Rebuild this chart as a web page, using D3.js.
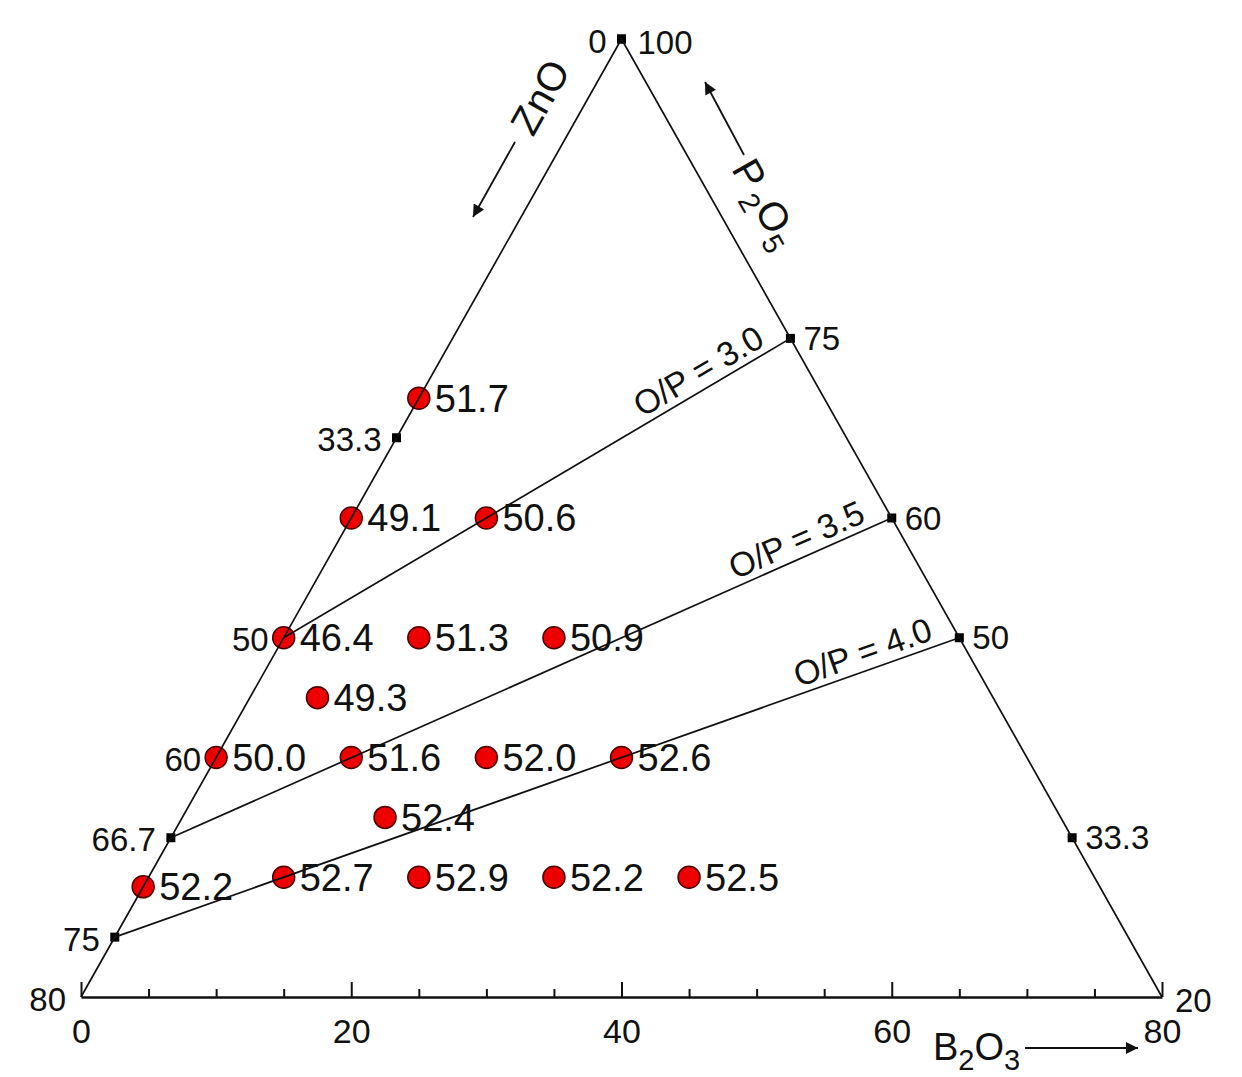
<!DOCTYPE html>
<html><head><meta charset="utf-8">
<script src="https://cdn.jsdelivr.net/npm/d3@7"></script>
<style>
body{margin:0;background:#fff;}
text{font-family:"Liberation Sans",Arial,sans-serif;fill:#111;}
</style>
</head><body><svg id="c" width="1242" height="1077"></svg>
<script>
// ---- data ----
const values = [51.7,49.1,50.6,46.4,51.3,50.9,49.3,50.0,51.6,52.0,52.6,52.4,52.2,52.7,52.9,52.2,52.5];
const zno    = [30,40,30,50,40,30,50,60,50,40,30,50,70.8,60,50,40,30];
const b2o3   = [0,0,10,0,10,20,5,0,10,20,30,15,0,10,20,30,40];
const p2o5   = [70,60,60,50,50,50,45,40,40,40,40,35,29.2,30,30,30,30];

const opLabels   = ["O/P = 3.0","O/P = 3.5","O/P = 4.0"];
const opZnOStart = [50,66.7,75];   // on ZnO–P2O5 edge
const opP2O5End  = [75,60,50];     // on B2O3–P2O5 edge

const znoTicks       = [0,33.3,50,60,66.7,75,80];
const znoTickLabels  = ["0","33.3","50","60","66.7","75","80"];
const p2o5Ticks      = [100,75,60,50,33.3,20];
const p2o5TickLabels = ["100","75","60","50","33.3","20"];
const b2o3Major = [0,20,40,60,80];
const b2o3Minor = [5,10,15,25,30,35,45,50,55,65,70,75];

// ---- scales ----
const svg = d3.select("#c");
const x = d3.scaleLinear().domain([0,80]).range([81,1162]);
const y = d3.scaleLinear().domain([20,100]).range([997,39]);
const pos = (z,b,p) => [x(b + (p-20)/2), y(p)];

const defs = svg.append("defs");
defs.append("marker").attr("id","ah").attr("viewBox","0 0 10 10")
  .attr("refX",10).attr("refY",5).attr("markerWidth",21).attr("markerHeight",12)
  .attr("markerUnits","userSpaceOnUse").attr("orient","auto")
  .append("path").attr("d","M0,0L10,5L0,10Z").attr("fill","#111");

// ---- bottom axis ----
const ax = svg.append("g").attr("transform",`translate(0,${y(20)})`)
  .call(d3.axisBottom(x).tickValues(b2o3Major).tickSize(-15).tickSizeOuter(0).tickPadding(22).tickFormat(d3.format("d")));
ax.select(".domain").attr("stroke","#111").attr("stroke-width",2.5);
ax.selectAll(".tick line").attr("stroke","#111").attr("stroke-width",2);
ax.selectAll(".tick text").attr("font-size",34).attr("font-family","Liberation Sans, Arial, sans-serif").attr("fill","#111");
const axm = svg.append("g").attr("transform",`translate(0,${y(20)})`)
  .call(d3.axisBottom(x).tickValues(b2o3Minor).tickSize(-8).tickSizeOuter(0).tickFormat(""));
axm.select(".domain").remove();
axm.selectAll(".tick line").attr("stroke","#111").attr("stroke-width",2);

// ---- edge markers ----
const leftPts = znoTicks.map(z => pos(z,0,100-z));
const rightPts = p2o5Ticks.map(p => pos(0,100-p,p));
svg.append("g").selectAll("rect").data(leftPts.slice(0,-1).concat(rightPts.slice(0,-1))).join("rect")
  .attr("x",d=>d[0]-4.5).attr("y",d=>d[1]-4.5).attr("width",9).attr("height",9).attr("fill","#000");

// edge tick labels
svg.append("g").selectAll("text").data(znoTicks).join("text")
  .attr("x",(d,i)=>leftPts[i][0]-15).attr("y",(d,i)=>leftPts[i][1]+2)
  .attr("dy","0.35em").attr("text-anchor","end").attr("font-size",33)
  .text((d,i)=>znoTickLabels[i]);
svg.append("g").selectAll("text").data(p2o5Ticks).join("text")
  .attr("x",(d,i)=>rightPts[i][0]+(i===0?16:13)).attr("y",(d,i)=>rightPts[i][1]+(i===0||i===5?3:0))
  .attr("dy","0.35em").attr("text-anchor","start").attr("font-size",33)
  .text((d,i)=>p2o5TickLabels[i]);

// ---- data points ----
const pts = values.map((v,i)=>({v, p:pos(zno[i],b2o3[i],p2o5[i])}));
svg.append("g").selectAll("circle").data(pts).join("circle")
  .attr("cx",d=>d.p[0]).attr("cy",d=>d.p[1]).attr("r",11)
  .attr("fill","#ee0000").attr("stroke","#4a0000").attr("stroke-width",1.5);
svg.append("g").selectAll("text").data(pts).join("text")
  .attr("x",d=>d.p[0]+16).attr("y",d=>d.p[1]).attr("dy","0.35em")
  .attr("font-size",38).text(d=>d.v.toFixed(1));

// ---- triangle edges ----
const corners = [pos(80,0,20), pos(0,0,100), pos(0,80,20)];
svg.append("path").attr("d",d3.line()(corners)).attr("fill","none")
  .attr("stroke","#111").attr("stroke-width",1.7);

// ---- O/P lines ----
const opG = svg.append("g");
opLabels.forEach((lab,i)=>{
  const A = pos(opZnOStart[i],0,100-opZnOStart[i]);
  const B = pos(0,100-opP2O5End[i],opP2O5End[i]);
  opG.append("line").attr("x1",A[0]).attr("y1",A[1]).attr("x2",B[0]).attr("y2",B[1])
    .attr("stroke","#111").attr("stroke-width",1.7);
  const dx=B[0]-A[0], dy=B[1]-A[1], L=Math.hypot(dx,dy);
  const ux=dx/L, uy=dy/L, nx=uy, ny=-ux;
  const tx=B[0]-24*ux+7*nx, ty=B[1]-24*uy+7*ny;
  const ang=Math.atan2(dy,dx)*180/Math.PI;
  opG.append("text").attr("transform",`translate(${tx},${ty}) rotate(${ang})`)
    .attr("text-anchor","end").attr("font-size",34).text(lab);
});

// ---- axis titles & arrows ----
svg.append("line").attr("x1",515).attr("y1",142).attr("x2",473).attr("y2",217)
  .attr("stroke","#111").attr("stroke-width",1.8).attr("marker-end","url(#ah)");
svg.append("text").attr("transform","translate(540,97) rotate(-60.6)")
  .attr("text-anchor","middle").attr("dy","0.35em").attr("font-size",40).text("ZnO");

svg.append("line").attr("x1",744).attr("y1",155).attr("x2",705).attr("y2",82)
  .attr("stroke","#111").attr("stroke-width",1.8).attr("marker-end","url(#ah)");
const pt = svg.append("text").attr("transform","translate(766,203) rotate(60.6)")
  .attr("text-anchor","middle").attr("dy","0.35em").attr("font-size",40);
pt.append("tspan").text("P");
pt.append("tspan").attr("dx",4).attr("dy",10).attr("font-size",29).text("2");
pt.append("tspan").attr("dy",-10).text("O");
pt.append("tspan").attr("dy",10).attr("font-size",29).text("5");

svg.append("line").attr("x1",1025).attr("y1",1048).attr("x2",1138).attr("y2",1048)
  .attr("stroke","#111").attr("stroke-width",1.8).attr("marker-end","url(#ah)");
const bt = svg.append("text").attr("x",933).attr("y",1060).attr("font-size",38);
bt.append("tspan").text("B");
bt.append("tspan").attr("dy",10).attr("font-size",29).text("2");
bt.append("tspan").attr("dy",-10).text("O");
bt.append("tspan").attr("dy",10).attr("font-size",29).text("3");
</script>
</body></html>
